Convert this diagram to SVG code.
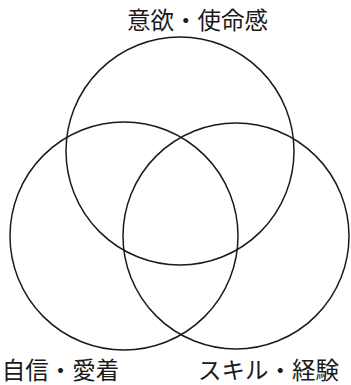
<svg xmlns="http://www.w3.org/2000/svg" width="351" height="385" viewBox="0 0 351 385">
<style>
.c{fill:none;stroke:#1a1a1a;stroke-width:1.5}
.t{font-family:"Noto Sans CJK JP","Noto Sans CJK SC",sans-serif;font-size:23.5px;fill:#1a1a1a;text-anchor:middle}
</style>
<rect width="351" height="385" fill="#fff"/>
<g id="motivation">
<circle class="c" cx="180" cy="151" r="114"/>
<text class="t" x="197.5" y="28.5">意欲・使命感</text>
</g>
<g id="confidence">
<circle class="c" cx="124" cy="236" r="114"/>
<text class="t" x="60.5" y="379">自信・愛着</text>
</g>
<g id="skill">
<circle class="c" cx="236" cy="236" r="113"/>
<text class="t" x="268.5" y="379">スキル・経験</text>
</g>
<g id="connectors"/>
</svg>
